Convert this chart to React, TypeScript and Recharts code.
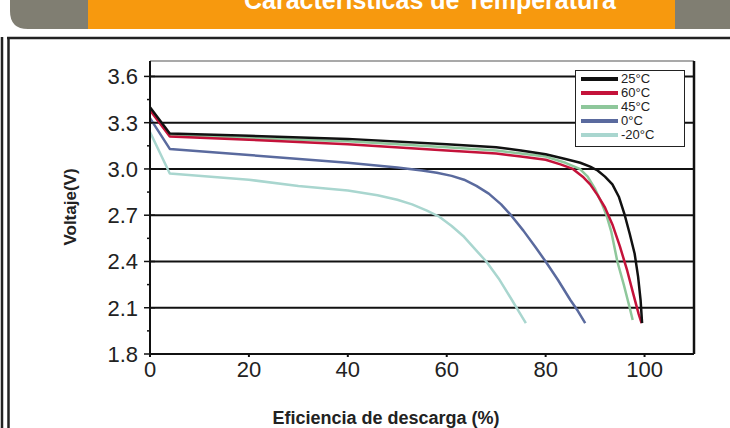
import { LineChart, Line, XAxis, YAxis, ReferenceLine, Legend } from "recharts";

// tick values
const xTicks = [0, 20, 40, 60, 80, 100];
const yMajorTicks = [1.8, 2.1, 2.4, 2.7, 3.0, 3.3, 3.6];
const yMinorTicks = [1.95, 2.25, 2.55, 2.85, 3.15, 3.45];

// 25°C
const pct25 = [0, 4, 20, 40, 60, 70, 75, 80, 84, 87, 89, 90.5, 92, 93.5, 94.8, 96, 97, 98, 98.7, 99.2, 99.5];
const volt25 = [3.4, 3.23, 3.215, 3.195, 3.16, 3.14, 3.12, 3.095, 3.065, 3.04, 3.015, 2.99, 2.95, 2.9, 2.82, 2.7, 2.58, 2.45, 2.3, 2.15, 2.0];

// 60°C
const pct60 = [0, 4, 20, 40, 60, 70, 75, 80, 83, 85.5, 87.5, 89, 90.5, 92, 93.5, 95, 96.5, 97.8, 98.8, 99.4];
const volt60 = [3.38, 3.21, 3.19, 3.16, 3.12, 3.1, 3.08, 3.06, 3.03, 3.0, 2.95, 2.9, 2.83, 2.75, 2.64, 2.5, 2.34, 2.18, 2.06, 2.0];

// 45°C
const pct45 = [0, 4, 20, 40, 60, 70, 75, 80, 84, 86.9, 88.5, 90, 91.3, 92.3, 93.3, 94.5, 95.8, 97, 97.6];
const volt45 = [3.39, 3.22, 3.2, 3.18, 3.14, 3.12, 3.1, 3.08, 3.04, 3.0, 2.95, 2.87, 2.78, 2.7, 2.59, 2.4, 2.25, 2.1, 2.02];

// 0°C
const pct0 = [0, 4, 20, 40, 50, 55, 58, 61, 63.5, 66, 68.5, 71, 73, 75.5, 78, 80, 82.5, 85, 86.5, 88];
const volt0 = [3.33, 3.13, 3.09, 3.04, 3.01, 2.99, 2.975, 2.955, 2.93, 2.89, 2.84, 2.77, 2.7, 2.6, 2.49, 2.4, 2.28, 2.15, 2.08, 2.0];

// -20°C
const pctM20 = [0, 4, 20, 30, 40, 46, 50, 53, 56, 58.5, 61, 63.5, 66, 68, 70.5, 73, 74.5, 76];
const voltM20 = [3.24, 2.97, 2.93, 2.89, 2.86, 2.83, 2.8, 2.77, 2.73, 2.69, 2.63, 2.56, 2.47, 2.4, 2.29, 2.16, 2.08, 2.0];

const zip = (xs: number[], ys: number[]) => xs.map((x, i) => ({ x, v: ys[i] }));

// legend order (top to bottom)
const series = [
  { name: "25°C", color: "#111111", data: zip(pct25, volt25) },
  { name: "60°C", color: "#c4123a", data: zip(pct60, volt60) },
  { name: "45°C", color: "#8ec79b", data: zip(pct45, volt45) },
  { name: "0°C", color: "#5a6a9e", data: zip(pct0, volt0) },
  { name: "-20°C", color: "#a9d6cf", data: zip(pctM20, voltM20) },
];

const font = "'Liberation Sans', Arial, Helvetica, sans-serif";

const YTick = (props: any) => {
  const { x, y, payload } = props;
  const ax = x + 12;
  const major = yMajorTicks.includes(payload.value);
  return (
    <g>
      <line x1={major ? ax - 6 : ax - 3} x2={major ? ax + 5 : ax} y1={y} y2={y} stroke="#111" strokeWidth={1.5} />
      {major && (
        <text x={x} y={y} dy="0.36em" textAnchor="end" fontSize={22} fill="#222" fontFamily={font}>
          {payload.value.toFixed(1)}
        </text>
      )}
    </g>
  );
};

const LegendBox = () => (
  <div
    style={{
      width: 110,
      height: 77,
      boxSizing: "border-box",
      border: "1.5px solid #222",
      background: "#fff",
      paddingTop: 1,
      fontFamily: font,
      fontSize: 13,
      color: "#222",
    }}
  >
    {series.map((s) => (
      <div key={s.name} style={{ display: "flex", alignItems: "center", height: 14 }}>
        <div style={{ width: 37, height: 4, background: s.color, marginLeft: 5, marginRight: 3 }} />
        <span style={{ lineHeight: "14px" }}>{s.name}</span>
      </div>
    ))}
  </div>
);

export default function App() {
  return (
    <div style={{ position: "absolute", left: 0, top: 0, width: 730, height: 428, background: "#fff", overflow: "hidden" }}>
      <svg width={730} height={428} style={{ position: "absolute", left: 0, top: 0 }}>
        <path d="M10 0 H90 V29 H28 Q10 29 10 11 Z" fill="#807e72" />
        <rect x={88} y={0} width={587} height={29} fill="#f7990e" />
        <rect x={675} y={0} width={55} height={29} fill="#807e72" />
        <text x={430} y={9} textAnchor="middle" fill="#fff" fontWeight="bold" fontSize={25} fontFamily={font}>
          Características de Temperatura
        </text>
        <line x1={2} y1={37} x2={2} y2={428} stroke="#222" strokeWidth={2.5} />
        <line x1={8.5} y1={37} x2={8.5} y2={428} stroke="#222" strokeWidth={2.5} />
        <line x1={7} y1={38} x2={730} y2={38} stroke="#222" strokeWidth={2.5} />
        <text
          x={76}
          y={207}
          transform="rotate(-90 76 207)"
          textAnchor="middle"
          fontSize={17}
          fontWeight="bold"
          fill="#222"
          fontFamily={font}
        >
          Voltaje(V)
        </text>
        <text x={386} y={424} textAnchor="middle" fontSize={18} fontWeight="bold" fill="#222" fontFamily={font}>
          Eficiencia de descarga (%)
        </text>
      </svg>
      <div style={{ position: "absolute", left: 0, top: 0 }}>
        <LineChart width={730} height={428} margin={{ top: 61, right: 36, bottom: 44, left: 90 }}>
          <XAxis
            type="number"
            dataKey="x"
            domain={[0, 110]}
            ticks={xTicks}
            interval={0}
            allowDuplicatedCategory={false}
            stroke="#111"
            strokeWidth={2}
            tickSize={3}
            tickMargin={4}
            tick={{ fontSize: 22, fill: "#222", fontFamily: font }}
          />
          <YAxis
            type="number"
            domain={[1.8, 3.7]}
            ticks={[...yMajorTicks, ...yMinorTicks].sort((a, b) => a - b)}
            interval={0}
            width={60}
            stroke="#111"
            strokeWidth={2}
            tickLine={false}
            tickSize={6}
            tickMargin={6}
            tick={<YTick />}
          />
          <ReferenceLine y={3.7} stroke="#555" strokeWidth={1.2} />
          <ReferenceLine x={110} stroke="#111" strokeWidth={2.5} />
          {yMajorTicks.slice(1).map((v) => (
            <ReferenceLine key={v} y={v} stroke="#111" strokeWidth={2} />
          ))}
          {[...series].reverse().map((s) => (
            <Line
              key={s.name}
              data={s.data}
              dataKey="v"
              name={s.name}
              type="linear"
              stroke={s.color}
              strokeWidth={2.5}
              strokeLinejoin="round"
              dot={false}
              activeDot={false}
              isAnimationActive={false}
            />
          ))}
          <Legend
            layout="horizontal"
            verticalAlign="middle"
            align="center"
            content={() => <LegendBox />}
            wrapperStyle={{ position: "absolute", left: 575, top: 70, width: 110 }}
          />
        </LineChart>
      </div>
    </div>
  );
}
